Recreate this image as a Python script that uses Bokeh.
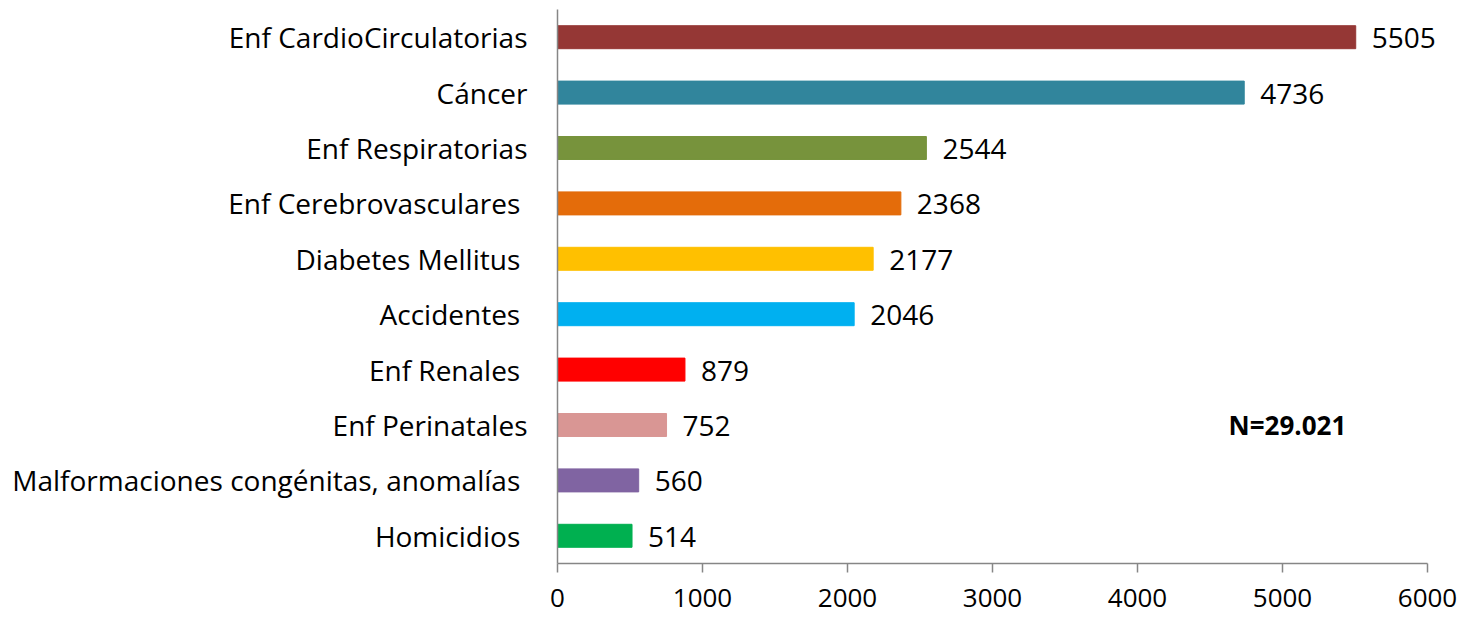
from bokeh.plotting import figure
from bokeh.models import ColumnDataSource, FactorRange, Range1d, FixedTicker
from bokeh.embed import file_html
from bokeh.resources import INLINE
from bokeh.core.properties import value

categories = ["Enf CardioCirculatorias", "Cáncer", "Enf Respiratorias",
              "Enf Cerebrovasculares ", "Diabetes Mellitus ", "Accidentes ",
              "Enf Renales ", "Enf Perinatales",
              "Malformaciones congénitas, anomalías ", "Homicidios "]
deaths = [5505, 4736, 2544, 2368, 2177, 2046, 879, 752, 560, 514]
colors = ["#953735", "#31859C", "#77933C", "#E46C0A", "#FFC000",
          "#00B0F0", "#FF0000", "#D99694", "#8064A2", "#00B050"]
x_ticks = [0, 1000, 2000, 3000, 4000, 5000, 6000]
total_label = "N=29.021"
total_row = "Enf Perinatales"
total_x = 5034

FONT = "Open Sans"
W, H = 1466, 617
LEFT, RIGHT, TOP, BOTTOM = 557, 0, 9, 54
axis_max = 6000
frame_w = W - LEFT - RIGHT
x_end = axis_max * frame_w / 870.0

src = ColumnDataSource(dict(cat=categories, val=deaths, col=colors,
                            lab=[str(v) for v in deaths]))

p = figure(width=W, height=H, output_backend="svg", toolbar_location=None,
           y_range=FactorRange(factors=list(reversed(categories)), range_padding=0),
           x_range=Range1d(0, x_end),
           min_border_left=LEFT, min_border_right=RIGHT,
           min_border_top=TOP, min_border_bottom=BOTTOM)
p.outline_line_color = None
p.grid.visible = False

p.hbar(y="cat", right="val", left=0, height=0.415, color="col", source=src)
p.text(x="val", y="cat", text="lab", source=src, x_offset=16, y_offset=1,
       text_baseline="middle", text_align="left",
       text_font=value(FONT), text_font_size="28px", text_color="#000000")
p.text(x=[total_x], y=[total_row], text=[total_label], text_align="center",
       text_baseline="middle", text_font=value(FONT), text_font_size="26px",
       text_font_style="bold", text_color="#000000")

xa = p.xaxis[0]
xa.ticker = FixedTicker(ticks=x_ticks)
xa.bounds = (0, axis_max)
xa.axis_line_color = "#868686"
xa.axis_line_width = 1.5
xa.major_tick_line_color = "#868686"
xa.major_tick_line_width = 1.5
xa.major_tick_out = 9
xa.major_tick_in = 0
xa.minor_tick_line_color = None
xa.major_label_standoff = 16
xa.major_label_text_font = FONT
xa.major_label_text_font_size = "26px"
xa.major_label_text_color = "#000000"

ya = p.yaxis[0]
ya.axis_line_color = "#868686"
ya.axis_line_width = 1.5
ya.major_tick_line_color = None
ya.major_tick_out = 0
ya.major_tick_in = 0
ya.major_label_standoff = 30
ya.major_label_text_font = FONT
ya.major_label_text_font_size = "28px"
ya.major_label_text_color = "#000000"

open("out.html", "w").write(file_html(p, INLINE))
